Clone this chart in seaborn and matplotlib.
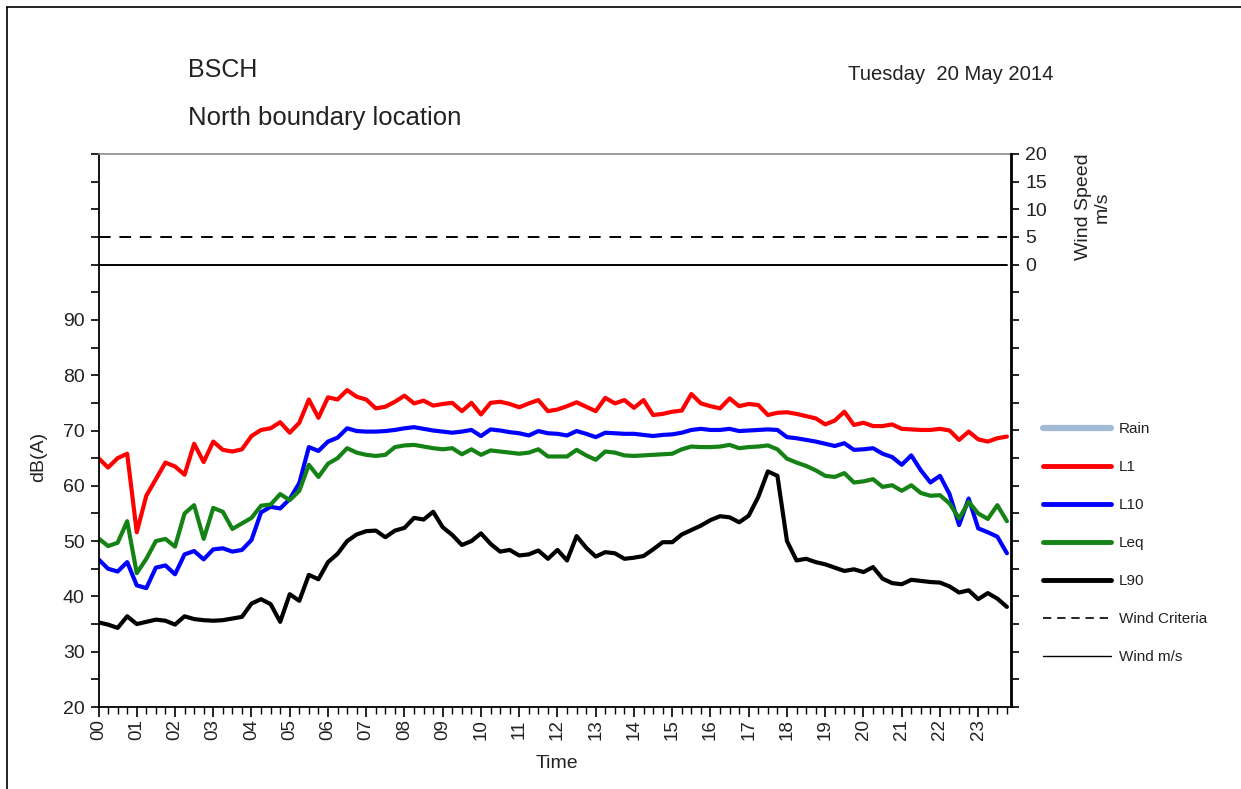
import numpy as np
import pandas as pd
import matplotlib
matplotlib.use("Agg")
import matplotlib.pyplot as plt
from matplotlib.lines import Line2D
from matplotlib.ticker import FixedLocator, FuncFormatter
import seaborn as sns

# ---- 15-minute noise levels, dB(A) ----
L1 = [65.0, 63.3, 65.0, 65.8, 51.6, 58.2, 61.2, 64.2, 63.5, 62.0, 67.6, 64.3,
      68.0, 66.5, 66.2, 66.6, 69.0, 70.1, 70.4, 71.5, 69.6, 71.4, 75.6, 72.3,
      76.0, 75.6, 77.3, 76.1, 75.6, 74.0, 74.3, 75.2, 76.3, 74.9, 75.4, 74.5,
      74.8, 75.0, 73.5, 75.0, 72.9, 75.0, 75.2, 74.8, 74.2, 74.9, 75.5, 73.5,
      73.8, 74.4, 75.1, 74.3, 73.5, 75.9, 74.9, 75.5, 74.1, 75.5, 72.8, 73.0,
      73.4, 73.6, 76.6, 74.9, 74.4, 74.0, 75.8, 74.4, 74.8, 74.6, 72.8, 73.2,
      73.3, 73.0, 72.6, 72.2, 71.1, 71.8, 73.4, 71.0, 71.4, 70.8, 70.8, 71.1,
      70.3, 70.2, 70.1, 70.1, 70.3, 70.0, 68.3, 69.8, 68.4, 68.0, 68.6, 68.9]
L10 = [46.7, 45.0, 44.5, 46.2, 42.0, 41.5, 45.2, 45.6, 44.0, 47.6, 48.2, 46.7,
       48.5, 48.7, 48.1, 48.4, 50.2, 55.2, 56.2, 55.9, 57.6, 60.5, 67.0, 66.3,
       68.0, 68.7, 70.4, 69.9, 69.8, 69.8, 69.9, 70.1, 70.4, 70.6, 70.3, 70.0,
       69.8, 69.6, 69.8, 70.1, 69.0, 70.2, 70.0, 69.7, 69.5, 69.1, 69.9, 69.5,
       69.4, 69.1, 69.9, 69.4, 68.8, 69.6, 69.5, 69.4, 69.4, 69.2, 69.0, 69.2,
       69.3, 69.6, 70.1, 70.3, 70.1, 70.1, 70.3, 69.9, 70.0, 70.1, 70.2, 70.1,
       68.8, 68.6, 68.3, 68.0, 67.6, 67.2, 67.7, 66.5, 66.6, 66.8, 65.8, 65.2,
       63.8, 65.5, 62.8, 60.6, 61.8, 58.5, 52.9, 57.7, 52.3, 51.6, 50.8, 47.8]
LEQ = [50.5, 49.1, 49.7, 53.6, 44.2, 46.8, 50.0, 50.4, 49.0, 55.0, 56.5, 50.4,
       56.0, 55.3, 52.2, 53.2, 54.2, 56.4, 56.6, 58.5, 57.4, 59.1, 63.8, 61.6,
       64.0, 65.0, 66.8, 66.0, 65.6, 65.4, 65.6, 67.0, 67.3, 67.4, 67.1, 66.8,
       66.6, 66.8, 65.7, 66.6, 65.6, 66.4, 66.2, 66.0, 65.8, 66.0, 66.6, 65.3,
       65.3, 65.3, 66.5, 65.5, 64.7, 66.2, 66.0, 65.5, 65.4, 65.5, 65.6, 65.7,
       65.8, 66.6, 67.1, 67.0, 67.0, 67.1, 67.4, 66.8, 67.0, 67.1, 67.3, 66.6,
       64.9, 64.2, 63.6, 62.8, 61.8, 61.6, 62.3, 60.6, 60.8, 61.2, 59.8, 60.1,
       59.1, 60.1, 58.7, 58.2, 58.3, 56.8, 54.1, 57.1, 55.0, 54.0, 56.5, 53.6]
L90 = [35.3, 34.9, 34.3, 36.4, 35.0, 35.4, 35.8, 35.6, 34.9, 36.4, 35.9, 35.7,
       35.6, 35.7, 36.0, 36.3, 38.7, 39.5, 38.6, 35.4, 40.4, 39.2, 43.9, 43.1,
       46.2, 47.7, 50.0, 51.2, 51.8, 51.9, 50.7, 51.9, 52.4, 54.2, 53.9, 55.3,
       52.5, 51.1, 49.3, 50.0, 51.4, 49.5, 48.1, 48.4, 47.4, 47.6, 48.3, 46.8,
       48.4, 46.5, 50.9, 48.8, 47.2, 48.0, 47.8, 46.8, 47.0, 47.3, 48.5, 49.8,
       49.8, 51.2, 52.0, 52.8, 53.8, 54.5, 54.3, 53.4, 54.6, 58.0, 62.6, 61.8,
       50.0, 46.5, 46.8, 46.2, 45.8, 45.2, 44.6, 44.9, 44.4, 45.3, 43.2, 42.4,
       42.2, 43.0, 42.8, 42.6, 42.5, 41.8, 40.7, 41.1, 39.5, 40.6, 39.6, 38.1]

# ---- wind, m/s ----
WIND = [0.0] * 96
WIND_CRITERIA = 5.0

HOUR_LABELS = [f"{h:02d}" for h in range(24)]
DB_LABELS = [20, 30, 40, 50, 60, 70, 80, 90]
WIND_LABELS = [0, 5, 10, 15, 20]

hours = np.arange(len(L1)) * 0.25
df = pd.DataFrame({"hour": hours, "L1": L1, "L10": L10, "Leq": LEQ,
                   "L90": L90, "wind": WIND})
df["criteria"] = WIND_CRITERIA

sns.set_theme(style="white")
plt.rcParams["font.family"] = ["Liberation Sans", "DejaVu Sans"]

W, H = 1241, 789
fig = plt.figure(figsize=(W / 100, H / 100), dpi=100)
x0, x1, yb, yt = 98.5, 1011.5, 707, 154
ax = fig.add_axes([x0 / W, 1 - yb / H, (x1 - x0) / W, (yb - yt) / H])

series = [("L1", "#ff0000"), ("L10", "#0000ff"), ("Leq", "#148214"), ("L90", "#000000")]
for name, col in series:
    sns.lineplot(data=df, x="hour", y=name, ax=ax, color=col, lw=3.0,
                 solid_joinstyle="round", solid_capstyle="round", legend=False)

ax.set_xlim(0, 23.87)
ax.set_ylim(20, 120)
ax.set_facecolor("white")

# left axis: ticks every 5 dB, labels 20..90
ax.yaxis.set_major_locator(FixedLocator(np.arange(20, 121, 5)))
ax.yaxis.set_major_formatter(FuncFormatter(
    lambda v, p: f"{int(round(v))}" if int(round(v)) in DB_LABELS else ""))
ax.xaxis.set_major_locator(FixedLocator(range(24)))
ax.xaxis.set_major_formatter(FuncFormatter(
    lambda v, p: HOUR_LABELS[int(round(v))] if 0 <= int(round(v)) < 24 else ""))
ax.xaxis.set_minor_locator(FixedLocator(np.arange(0, 24, 0.25)))
ax.tick_params(axis="x", which="major", direction="out", length=7, width=1.2,
               color="black", labelsize=13.5, labelrotation=90, pad=2,
               bottom=True, labelcolor="#222222")
ax.tick_params(axis="x", which="minor", direction="out", length=5, width=1.0,
               color="black", bottom=True)
ax.tick_params(axis="y", which="major", direction="out", length=6, width=1.2,
               color="black", labelsize=14, pad=4, left=True, labelcolor="#222222")

for s in ("left", "bottom"):
    ax.spines[s].set_color("black")
    ax.spines[s].set_linewidth(1.3)
ax.spines["top"].set_color("#8c8c8c")
ax.spines["top"].set_linewidth(1.2)
ax.spines["right"].set_color("black")
ax.spines["right"].set_linewidth(1.3)

ax.set_xlabel("Time", fontsize=14, color="#222222")
ax.xaxis.set_label_coords(0.502, -(755 - yb) / (yb - yt))
ax.set_ylabel("dB(A)", fontsize=14, color="#222222")
ax.yaxis.set_label_coords((47 - x0) / (x1 - x0), (yb - 457) / (yb - yt))

# right axis: wind speed, 0..20 m/s in the upper band
ax2 = ax.twinx()
sns.lineplot(data=df, x="hour", y="criteria", ax=ax2, color="black", lw=1.4,
             dashes=False, legend=False)
ax2.lines[-1].set_linestyle((0, (6, 4.5)))
sns.lineplot(data=df, x="hour", y="wind", ax=ax2, color="black", lw=1.4,
             legend=False)
ax2.set_ylim(-80, 20)
ax2.set_xlim(0, 23.87)
ax2.set_ylabel("")
ax2.yaxis.set_major_locator(FixedLocator(np.arange(-80, 21, 5)))
ax2.yaxis.set_major_formatter(FuncFormatter(
    lambda v, p: f"{int(round(v))}" if int(round(v)) in WIND_LABELS else ""))
ax2.tick_params(axis="y", which="major", direction="out", length=6, width=1.2,
                color="black", labelsize=14, pad=4, right=True, labelcolor="#222222")
for s in ax2.spines.values():
    s.set_visible(False)
ax2.spines["right"].set_visible(True)
ax2.spines["right"].set_color("black")
ax2.spines["right"].set_linewidth(1.3)

fig.text(1093 / W, 1 - 207 / H, "Wind Speed\nm/s", rotation=90, ha="center",
         va="center", multialignment="center", fontsize=14, color="#222222",
         linespacing=1.15)

# titles
fig.text(188 / W, 1 - 70 / H, "BSCH", fontsize=18, ha="left", va="center",
         color="#222222")
fig.text(188 / W, 1 - 118 / H, "North boundary location", fontsize=18.5,
         ha="left", va="center", color="#222222")
fig.text(848 / W, 1 - 75 / H, "Tuesday  20 May 2014", fontsize=14.6,
         ha="left", va="center", color="#222222")

# legend
handles = [
    Line2D([], [], color="#a3bad6", lw=4.5),
    Line2D([], [], color="#ff0000", lw=3.5),
    Line2D([], [], color="#0000ff", lw=3.5),
    Line2D([], [], color="#148214", lw=3.5),
    Line2D([], [], color="#000000", lw=3.5),
    Line2D([], [], color="black", lw=1.2, ls=(0, (5, 3.5))),
    Line2D([], [], color="black", lw=1.0),
]
labels = ["Rain", "L1", "L10", "Leq", "L90", "Wind Criteria", "Wind m/s"]
ax2.legend(handles, labels, loc="upper left",
           bbox_to_anchor=(1043 / W, 1 - 422 / H), bbox_transform=fig.transFigure,
           frameon=False, fontsize=11, handlelength=4.45, handletextpad=0.5,
           labelspacing=1.57, borderpad=0, borderaxespad=0, labelcolor="#222222")

# chart frame
fig.add_artist(Line2D([6.5 / W, 6.5 / W], [0, 1 - 6.5 / H], color="black",
                      lw=1.2, transform=fig.transFigure))
fig.add_artist(Line2D([6.5 / W, 1], [1 - 6.5 / H, 1 - 6.5 / H], color="black",
                      lw=1.2, transform=fig.transFigure))

fig.savefig("out.png", dpi=100, facecolor="white")
